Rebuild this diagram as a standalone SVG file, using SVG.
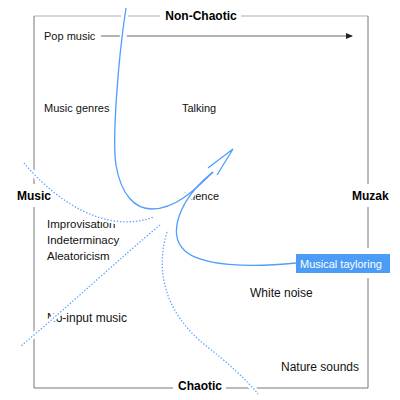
<svg xmlns="http://www.w3.org/2000/svg" width="400" height="400" viewBox="0 0 400 400">
<style>
.lbl{font-family:"Liberation Sans",Arial,sans-serif;font-size:11px;fill:#111}
.lbl12{font-family:"Liberation Sans",Arial,sans-serif;font-size:12px;fill:#111}
.axis{font-family:"Liberation Sans",Arial,sans-serif;font-size:12px;font-weight:bold;fill:#000}
.frame{stroke:#777;stroke-width:1;fill:none}
.frameTop{stroke:#b0b0b0;stroke-width:1.2;fill:none}
.halo{stroke:#fff;stroke-width:7;fill:none;stroke-linecap:butt}
.dhalo{stroke:#fff;stroke-width:6;fill:none;stroke-linecap:butt}
.blue{stroke:#4f9dff;stroke-width:1.3;fill:none}
.dot{stroke:#5aa5ff;stroke-width:1.3;fill:none;stroke-dasharray:1.4 1.8}
</style>
<defs>
<marker id="ah" markerWidth="8" markerHeight="8" refX="6" refY="3" orient="auto" markerUnits="userSpaceOnUse">
<path d="M0,0 L7,3 L0,6 Z" fill="#222"/>
</marker>
</defs>
<rect width="400" height="400" fill="#fff"/>
<g id="frame">
<path class="frameTop" d="M34,16 H160 M241,16 H368"/>
<path class="frame" d="M34,16 V184 M34,207 V388 H173 M226,388 H368 V278 M368,248 V207 M368,184 V16"/>
</g>
<g id="axis-labels">
<g id="non-chaotic"><text class="axis" x="201" y="20" text-anchor="middle">Non-Chaotic</text></g>
<g id="chaotic"><text class="axis" x="200" y="390" text-anchor="middle">Chaotic</text></g>
<g id="music"><text class="axis" x="17" y="200">Music</text></g>
<g id="muzak"><text class="axis" x="352" y="200">Muzak</text></g>
</g>
<g id="nodes">
<g id="pop-music"><text class="lbl" x="44" y="40">Pop music</text></g>
<g id="music-genres"><text class="lbl" x="44" y="112">Music genres</text></g>
<g id="talking"><text class="lbl" x="182" y="112">Talking</text></g>
<g id="silence"><text class="lbl" x="183" y="200">Silence</text></g>
<g id="improvisation"><text class="lbl" x="47" y="228" style="font-size:11.5px">Improvisation</text></g>
<g id="indeterminacy"><text class="lbl" x="47" y="244" style="font-size:11.5px">Indeterminacy</text></g>
<g id="aleatoricism"><text class="lbl" x="47" y="260" style="font-size:11.5px">Aleatoricism</text></g>
<g id="no-input-music"><text class="lbl12" x="47" y="322">No-input music</text></g>
<g id="white-noise"><text class="lbl12" x="250" y="297">White noise</text></g>
<g id="nature-sounds"><text class="lbl12" x="281" y="371">Nature sounds</text></g>
</g>
<g id="connectors">
<path class="dhalo" d="M24,163 C55,200 105,235 154,217"/>
<path class="dhalo" d="M160,225 C120,258 70,305 21,346"/>
<path class="dhalo" d="M167,232 C154,275 168,315 205,345 Q240,372 258,394"/>
<path class="halo" d="M126,6 C118,60 112,140 116,165 C121,195 135,209 152,209 C175,209 195,190 213,172"/>
<path class="halo" d="M296,263 C250,268 200,266 184,250 C168,234 178,200 213,172"/>
<path class="halo" style="stroke-width:5" d="M208,168 L233,149 L217,175"/>
<path class="frame" style="stroke:#666" d="M101,36 H352" marker-end="url(#ah)"/>
<path class="halo" d="M124.3,20 L122.5,48"/>
<path class="dot" d="M24,163 C55,200 105,235 154,217"/>
<path class="dot" d="M160,225 C120,258 70,305 21,346"/>
<path class="dot" d="M167,232 C154,275 168,315 205,345 Q240,372 258,394"/>
<path class="blue" d="M126,8 C118,60 112,140 116,165 C121,195 135,209 152,209 C175,209 195,190 213,172"/>
<path class="blue" d="M296,263 C250,268 200,266 184,250 C168,234 178,200 213,172"/>
<path class="blue" d="M208,168 L233,149 L217,175"/>
</g>
<g id="musical-tayloring">
<rect x="296" y="254" width="94" height="19" fill="#4a9cf6"/>
<text x="300" y="268" style="font-family:'Liberation Sans',Arial,sans-serif;font-size:11px;fill:#fff">Musical tayloring</text>
</g>
</svg>
